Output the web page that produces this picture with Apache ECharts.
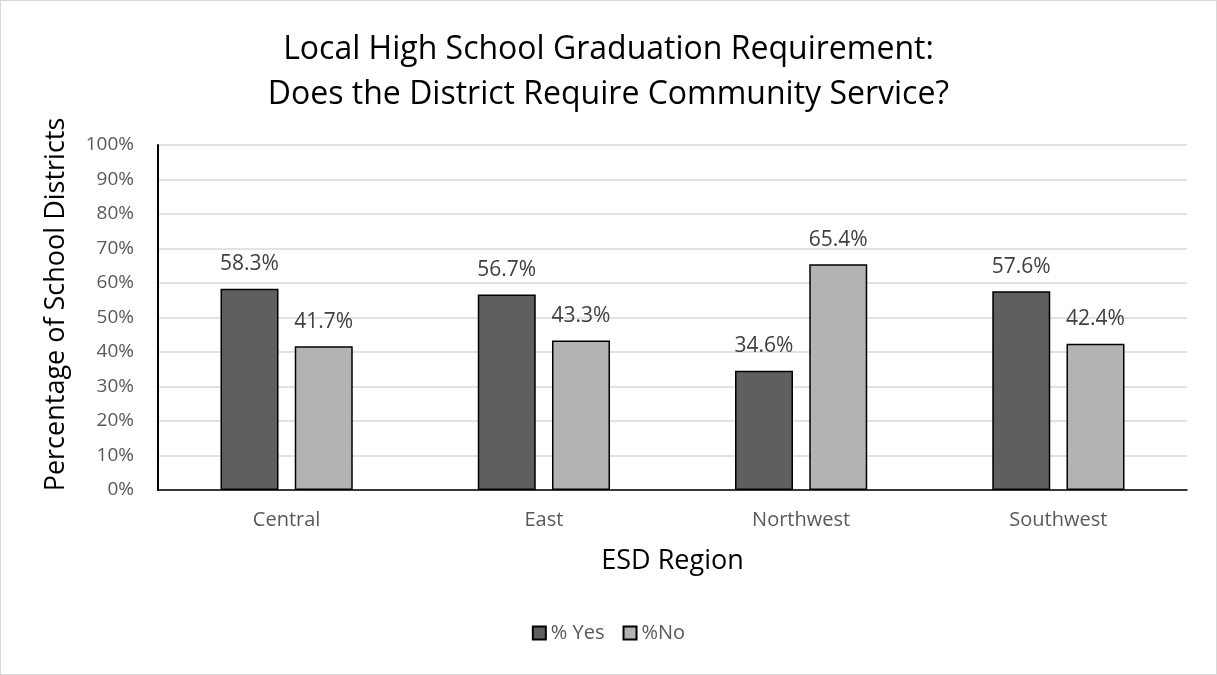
<!DOCTYPE html>
<html>
<head>
<meta charset="utf-8">
<script src="https://cdn.jsdelivr.net/npm/echarts@6/dist/echarts.min.js"></script>
<style>
  html, body { margin: 0; padding: 0; background: #fff; }
  #main { width: 1215px; height: 673px; border: 1px solid #d9d9d9; }
</style>
</head>
<body>
<div id="main"></div>
<script>
var regions = ['Central', 'East', 'Northwest', 'Southwest'];
var yesPct = [58.3, 56.7, 34.6, 57.6];
var noPct = [41.7, 43.3, 65.4, 42.4];

var chart = echarts.init(document.getElementById('main'));
var font = '"Open Sans", "Noto Sans", sans-serif';

// label above each bar
var barLabel = {
  show: true,
  position: 'top',
  distance: 14,
  color: '#404040',
  fontSize: 21,
  fontFamily: font,
  formatter: function (p) { return p.value.toFixed(1) + '%'; }
};

var option = {
  animation: false,
  textStyle: { fontFamily: font },
  title: {
    text: 'Local High School Graduation Requirement:\nDoes the District Require Community Service?',
    left: 'center',
    top: 21,
    textStyle: {
      fontSize: 32,
      fontWeight: 'normal',
      color: '#000',
      lineHeight: 45,
      fontFamily: font
    }
  },
  legend: {
    bottom: 26,
    left: 'center',
    itemWidth: 13,
    itemHeight: 13,
    itemGap: 18,
    icon: 'rect',
    textStyle: { fontSize: 20, color: '#595959', fontFamily: font },
    data: ['% Yes', '%No']
  },
  grid: {
    left: 157,
    right: 29,
    top: 144,
    bottom: 184
  },
  xAxis: {
    type: 'category',
    data: regions,
    name: 'ESD Region',
    nameLocation: 'middle',
    nameGap: 58,
    nameTextStyle: { fontSize: 27, color: '#000', fontFamily: font },
    axisLine: { lineStyle: { color: '#000', width: 1.5 } },
    axisTick: { show: false },
    axisLabel: { fontSize: 20, color: '#595959', margin: 20 }
  },
  yAxis: {
    type: 'value',
    min: 0,
    max: 100,
    interval: 10,
    name: 'Percentage of School Districts',
    nameLocation: 'middle',
    nameGap: 88,
    nameTextStyle: { fontSize: 27, color: '#000', fontFamily: font, padding: [0, 0, 0, 26] },
    axisLine: { show: true, lineStyle: { color: '#000', width: 2 } },
    axisTick: { show: false },
    axisLabel: { fontSize: 19, color: '#595959', margin: 24, formatter: '{value}%' },
    splitLine: { lineStyle: { color: '#d9d9d9', width: 1.5 } }
  },
  series: [{
    name: '% Yes',
    type: 'bar',
    data: yesPct,
    barWidth: 58,
    barGap: '28%',
    itemStyle: { color: '#5f5f5f', borderColor: '#000', borderWidth: 1.5 },
    label: barLabel
  }, {
    name: '%No',
    type: 'bar',
    data: noPct,
    barWidth: 58,
    itemStyle: { color: '#b3b3b3', borderColor: '#000', borderWidth: 1.5 },
    label: barLabel
  }]
};

chart.setOption(option);
</script>
</body>
</html>
